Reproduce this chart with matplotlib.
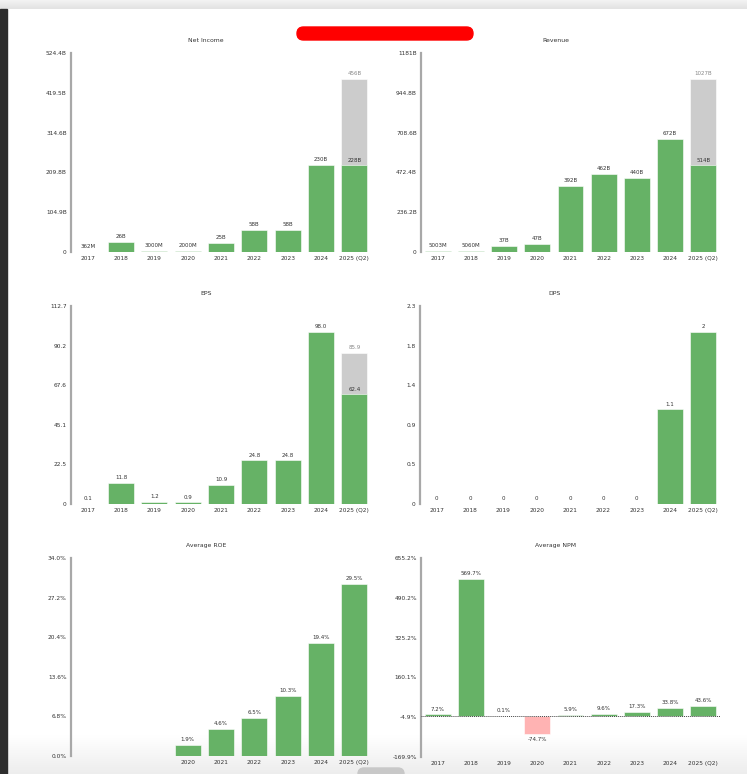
import numpy as np
import matplotlib
matplotlib.use("Agg")
import matplotlib.pyplot as plt
from matplotlib.patches import Rectangle, FancyBboxPatch

W, H = 747, 774
DPI = 100

years = ["2017", "2018", "2019", "2020", "2021", "2022", "2023", "2024", "2025 (Q2)"]

# Net Income (billions)
ni_values = [0.362, 26, 3.0, 2.0, 25, 58, 58, 230, 228]
ni_labels = ["362M", "26B", "3000M", "2000M", "25B", "58B", "58B", "230B", "228B"]
ni_proj = 456
ni_proj_label = "456B"
ni_ticks = ["0", "104.9B", "209.8B", "314.6B", "419.5B", "524.4B"]

# Revenue (billions)
rev_values = [5.003, 5.06, 37, 47, 392, 462, 440, 672, 514]
rev_labels = ["5003M", "5060M", "37B", "47B", "392B", "462B", "440B", "672B", "514B"]
rev_proj = 1027
rev_proj_label = "1027B"
rev_ticks = ["0", "236.2B", "472.4B", "708.6B", "944.8B", "1181B"]

# EPS
eps_values = [0.1, 11.8, 1.2, 0.9, 10.9, 24.8, 24.8, 98.0, 62.4]
eps_labels = ["0.1", "11.8", "1.2", "0.9", "10.9", "24.8", "24.8", "98.0", "62.4"]
eps_proj = 85.9
eps_proj_label = "85.9"
eps_ticks = ["0", "22.5", "45.1", "67.6", "90.2", "112.7"]

# DPS
dps_values = [0, 0, 0, 0, 0, 0, 0, 1.1, 2]
dps_labels = ["0", "0", "0", "0", "0", "0", "0", "1.1", "2"]
dps_ticks = ["0", "0.5", "0.9", "1.4", "1.8", "2.3"]

# Average ROE (%)
roe_values = [None, None, None, 1.9, 4.6, 6.5, 10.3, 19.4, 29.5]
roe_labels = ["", "", "", "1.9%", "4.6%", "6.5%", "10.3%", "19.4%", "29.5%"]
roe_ticks = ["0.0%", "6.8%", "13.6%", "20.4%", "27.2%", "34.0%"]

# Average NPM (%)
npm_values = [7.2, 569.7, 0.1, -74.7, 5.9, 9.6, 17.3, 33.8, 43.6]
npm_labels = ["7.2%", "569.7%", "0.1%", "-74.7%", "5.9%", "9.6%", "17.3%", "33.8%", "43.6%"]
npm_ticks = ["-169.9%", "-4.9%", "160.1%", "325.2%", "490.2%", "655.2%"]

GREEN = "#66b266"
GREY = "#cccccc"
RED = "#ffb3b3"
TXT = "#333333"
TICK_FS = 4.2
VAL_FS = 4.0
TITLE_FS = 4.4

fig = plt.figure(figsize=(W / DPI, H / DPI), dpi=DPI)
fig.patch.set_facecolor("white")

# screenshot frame elements
bg = fig.add_axes([0, 0, 1, 1], zorder=-10)
bg.set_xlim(0, W)
bg.set_ylim(H, 0)
bg.axis("off")
grad = np.linspace(1.0, 0.93, 40)[:, None] * np.ones((40, 2))
bg.imshow(np.dstack([grad, grad, grad]), extent=(0, W, H, 735), aspect="auto", zorder=0)
tgrad = np.linspace(0.95, 0.89, 10)[:, None] * np.ones((10, 2))
bg.imshow(np.dstack([tgrad, tgrad, tgrad]), extent=(0, W, 9, 0), aspect="auto", zorder=1)
bg.add_patch(Rectangle((0, 9), 7, H - 9, color="#2d2d2d", zorder=1))
bg.add_patch(FancyBboxPatch((297, 27), 176, 13, boxstyle="round,pad=0,rounding_size=6.5",
                            color="#ff0000", zorder=2))
bg.add_patch(FancyBboxPatch((358, 768), 46, 12, boxstyle="round,pad=0,rounding_size=6",
                            color="#c8c8c8", zorder=2))
bg.set_xlim(0, W)
bg.set_ylim(H, 0)


def px_axes(left, top, right, bottom):
    return [left / W, 1 - bottom / H, (right - left) / W, (bottom - top) / H]


def panel(rect, title, values, labels, ticks, lo, hi, proj=None, proj_label=None,
          show_xt=None, title_x=None):
    ax = fig.add_axes(px_axes(*rect))
    x = np.arange(len(years))
    ax.set_xlim(-0.5, len(years) - 0.5)
    ax.set_ylim(lo, hi)
    span = hi - lo
    off = span * 0.014
    if proj is not None:
        ax.bar(x[-1], proj, width=0.78, color=GREY, edgecolor="white", linewidth=0.4, zorder=1)
        ax.text(x[-1], proj + off, proj_label, ha="center", va="bottom",
                fontsize=VAL_FS, color="#888888")
    for xi, v, lab in zip(x, values, labels):
        if v is None:
            continue
        col = GREEN if v >= 0 else RED
        ax.bar(xi, v, width=0.78, color=col, edgecolor="white", linewidth=0.4, zorder=2)
        if v >= 0:
            ax.text(xi, v + off, lab, ha="center", va="bottom", fontsize=VAL_FS, color=TXT, zorder=3)
        else:
            ax.text(xi, v - off, lab, ha="center", va="top", fontsize=VAL_FS, color=TXT, zorder=3)
    ax.axhline(0, color="#444444", lw=0.7, ls=(0, (1, 1)), zorder=4)
    ax.set_yticks(np.linspace(lo, hi, len(ticks)))
    ax.set_yticklabels(ticks)
    ax.set_xticks(x)
    if show_xt is None:
        ax.set_xticklabels(years)
    else:
        ax.set_xticklabels([y if s else "" for y, s in zip(years, show_xt)])
    ax.tick_params(axis="both", length=0, labelsize=TICK_FS, colors=TXT, pad=3)
    ax.tick_params(axis="x", pad=3)
    for s in ["top", "right", "bottom"]:
        ax.spines[s].set_visible(False)
    ax.spines["left"].set_color("#a8a8a8")
    ax.spines["left"].set_linewidth(1.6)
    ax.patch.set_alpha(0)
    tx = title_x if title_x is not None else 0.45
    ax.text(tx, 1 + 12.5 / (rect[3] - rect[1]), title, transform=ax.transAxes,
            ha="center", va="center", fontsize=TITLE_FS, color=TXT)
    return ax


panel((71, 53, 371, 252), "Net Income", ni_values, ni_labels, ni_ticks, 0, 524.4,
      proj=ni_proj, proj_label=ni_proj_label)
panel((421, 53, 720, 252), "Revenue", rev_values, rev_labels, rev_ticks, 0, 1181,
      proj=rev_proj, proj_label=rev_proj_label)
panel((71, 306, 371, 504), "EPS", eps_values, eps_labels, eps_ticks, 0, 112.7,
      proj=eps_proj, proj_label=eps_proj_label)
panel((420, 306, 720, 504), "DPS", dps_values, dps_labels, dps_ticks, 0, 2.3)
panel((71, 558, 371, 756), "Average ROE", roe_values, roe_labels, roe_ticks, 0, 34.0,
      show_xt=[v is not None for v in roe_values])
panel((421, 558, 720, 757), "Average NPM", npm_values, npm_labels, npm_ticks, -169.9, 655.2)

fig.savefig("out.png", dpi=DPI, facecolor="white")
